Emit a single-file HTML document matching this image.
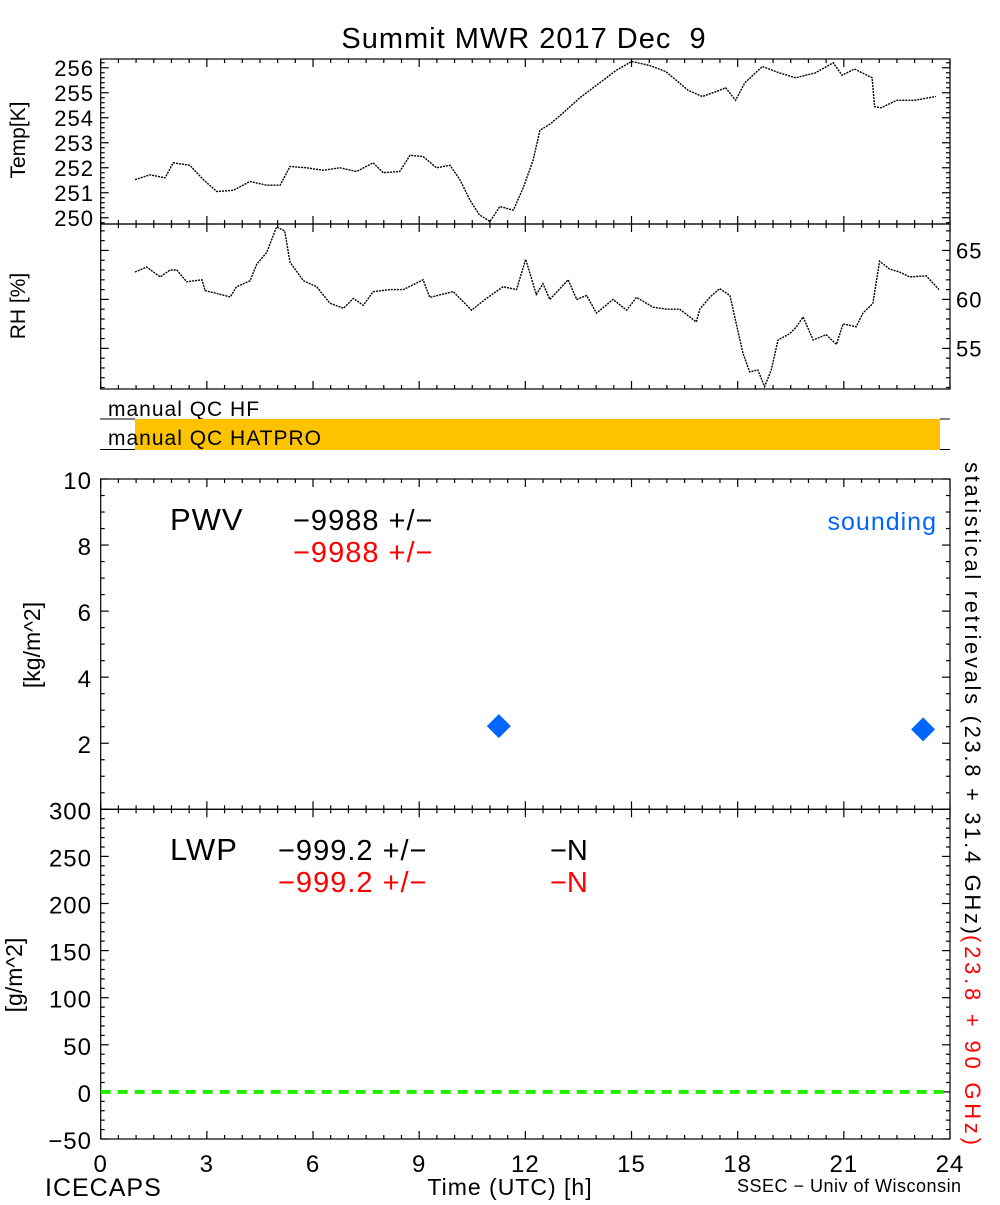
<!DOCTYPE html>
<html><head><meta charset="utf-8"><style>
body{margin:0;background:#fff}
svg text{font-family:"Liberation Sans",sans-serif}
</style></head><body>
<svg id="chart" width="1000" height="1200" xmlns="http://www.w3.org/2000/svg">
<text x="524" y="48" font-size="29" text-anchor="middle" xml:space="preserve" letter-spacing="1">Summit MWR 2017 Dec  9</text>
<g id="axes"></g>
<g id="marks"></g>
<!-- QC bars -->
<text x="108" y="416" font-size="21" letter-spacing="1">manual QC HF</text>
<line x1="100" y1="419" x2="135" y2="419" stroke="#000"/>
<line x1="940" y1="419" x2="950" y2="419" stroke="#000"/>
<rect x="135" y="419" width="805" height="31" fill="#fdc300"/>
<line x1="100" y1="449.5" x2="135" y2="449.5" stroke="#000"/>
<line x1="940" y1="449.5" x2="950" y2="449.5" stroke="#000"/>
<text x="108" y="445" font-size="21" letter-spacing="1">manual QC HATPRO</text>
<!-- axis titles -->
<text transform="translate(25,140) rotate(-90)" font-size="21" text-anchor="middle">Temp[K]</text>
<text transform="translate(25,306) rotate(-90)" font-size="21" text-anchor="middle">RH [%]</text>
<text transform="translate(40,645) rotate(-90)" font-size="23" text-anchor="middle">[kg/m^2]</text>
<text transform="translate(22,975) rotate(-90)" font-size="23" text-anchor="middle">[g/m^2]</text>
<text transform="translate(965,462) rotate(90)" font-size="22" textLength="472" lengthAdjust="spacing">statistical retrievals (23.8 + 31.4 GHz)</text>
<text transform="translate(965,935) rotate(90)" font-size="22" fill="#ff0000" textLength="210" lengthAdjust="spacing">(23.8 + 90 GHz)</text>
<!-- annotations -->
<text x="170" y="530" font-size="31" letter-spacing="1">PWV</text>
<text x="293" y="530" font-size="29" letter-spacing="1">−9988 +/−</text>
<text x="293" y="562" font-size="29" letter-spacing="1" fill="#ff0000">−9988 +/−</text>
<text x="937" y="530" font-size="25" letter-spacing="1" fill="#0066ff" text-anchor="end">sounding</text>
<text x="170" y="860" font-size="31" letter-spacing="1">LWP</text>
<text x="278" y="860" font-size="29" letter-spacing="1">−999.2 +/−</text>
<text x="278" y="892" font-size="29" letter-spacing="1" fill="#ff0000">−999.2 +/−</text>
<text x="550" y="860" font-size="29">−N</text>
<text x="550" y="892" font-size="29" fill="#ff0000">−N</text>
<text x="45" y="1196" font-size="25" letter-spacing="1">ICECAPS</text>
<text x="510" y="1195" font-size="23" letter-spacing="1" text-anchor="middle">Time (UTC) [h]</text>
<text x="737" y="1192" font-size="18" letter-spacing="0.5">SSEC − Univ of Wisconsin</text>
</svg>
<script>
const tempTimes=[0.97,1.39,1.82,2.05,2.52,2.9,3.28,3.75,4.22,4.69,5.07,5.35,5.82,6.29,6.76,7.23,7.7,7.98,8.45,8.74,9.11,9.49,9.87,10.15,10.43,10.7,11.0,11.28,11.66,11.94,12.22,12.41,12.7,13.07,13.54,14.1,14.57,15.0,15.5,15.97,16.6,17.0,17.4,17.66,17.94,18.2,18.7,19.17,19.64,20.2,20.7,20.95,21.3,21.8,21.87,22.05,22.5,22.99,23.6];
const tempValues=[251.52,251.72,251.6,252.2,252.1,251.52,251.05,251.1,251.45,251.3,251.3,252.05,252.0,251.9,252.0,251.85,252.2,251.8,251.85,252.5,252.45,252.0,252.1,251.52,250.72,250.12,249.85,250.45,250.3,251.2,252.3,253.5,253.75,254.2,254.8,255.4,255.9,256.25,256.1,255.85,255.1,254.85,255.05,255.2,254.7,255.4,256.05,255.8,255.6,255.8,256.2,255.7,255.95,255.6,254.45,254.4,254.7,254.7,254.85];
const rhTimes=[0.97,1.3,1.68,1.96,2.15,2.43,2.86,2.95,3.28,3.66,3.84,4.22,4.41,4.69,4.97,5.2,5.35,5.73,6.1,6.48,6.86,7.14,7.42,7.7,8.17,8.55,9.11,9.3,9.96,10.48,10.9,11.37,11.75,12.01,12.31,12.5,12.69,13.21,13.45,13.73,14.01,14.48,14.86,15.14,15.61,15.99,16.36,16.83,16.93,17.21,17.49,17.78,17.96,18.15,18.34,18.57,18.76,18.95,19.14,19.47,19.66,19.85,20.13,20.5,20.79,20.98,21.35,21.54,21.82,22.01,22.29,22.57,22.86,23.33,23.69];
const rhValues=[62.8,63.3,62.3,63.0,63.0,61.8,62.0,60.9,60.6,60.25,61.3,61.9,63.6,64.8,67.4,67.0,63.8,61.9,61.3,59.6,59.1,60.1,59.4,60.8,61.0,61.0,62.0,60.2,60.8,58.9,60.1,61.3,61.0,64.1,60.5,61.6,60.0,62.0,60.0,60.4,58.6,60.0,58.9,60.2,59.2,59.0,59.0,57.7,59.0,60.2,61.1,60.4,57.5,54.5,52.6,52.8,51.1,52.8,55.85,56.5,57.2,58.2,55.85,56.4,55.4,57.5,57.2,58.6,59.6,63.9,63.1,62.8,62.3,62.4,61.0];
const soundTimes=[11.25,23.24];
const soundPWV=[2.52,2.42];
const lwpRefValue=[0];
const xTicks=[0,3,6,9,12,15,18,21,24];
const tempTicks=[250,251,252,253,254,255,256];
const rhTicks=[55,60,65];
const pwvTicks=[0,2,4,6,8,10];
const lwpTicks=[-50,0,50,100,150,200,250,300];

const NS='http://www.w3.org/2000/svg';
const L=100.7,R=950;
const X=t=>L+(R-L)*t/24;
const lin=(d0,d1,r0,r1)=>v=>r0+(v-d0)*(r1-r0)/(d1-d0);
const yT=lin(249.75,256.35,224,59);
const yRH=lin(50.85,67.7,389,224);
const yP=lin(0,10,809.3,479);
const yL=lin(-50,300,1139,809.3);
const axes=document.getElementById('axes'),marks=document.getElementById('marks');
function mk(tag,attrs,parent){const e=document.createElementNS(NS,tag);for(const k in attrs)e.setAttribute(k,attrs[k]);parent.appendChild(e);return e;}
function ln(x1,y1,x2,y2,name){const e=mk('line',{x1,y1,x2,y2,stroke:'#000','stroke-width':1.2},axes);

return e;}
function txt(x,y,s,anchor,size,name){const e=mk('text',{x,y,'font-size':size,'text-anchor':anchor,'letter-spacing':1},axes);e.textContent=s;

return e;}
const panels=[[59,224],[224,389],[479,809.3],[809.3,1139]];
panels.forEach((p,i)=>{const r=mk('rect',{x:L,y:p[0],width:R-L,height:p[1]-p[0],fill:'none',stroke:'#000','stroke-width':1.2},axes);


for(let t=0;t<=24;t+=0.5){const maj=t%3===0;const len=maj?8:4;
ln(X(t),p[0],X(t),p[0]+len,'x-tick');ln(X(t),p[1],X(t),p[1]-len,'x-tick');}});
for(let v=249.8;v<=256.3;v+=0.2){const maj=Math.abs(v-Math.round(v))<0.01;const len=maj?8:4;ln(L,yT(v),L+len,yT(v),'temp-tick');ln(R,yT(v),R-len,yT(v),'temp-tick');}
tempTicks.forEach(v=>txt(94,yT(v)+8,String(v),'end',22,'temp-tick-label'));
for(let v=51;v<=67;v++){const len=v%5===0?8:4;ln(R,yRH(v),R-len,yRH(v),'rh-tick');ln(L,yRH(v),L+len,yRH(v),'rh-tick');}
rhTicks.forEach(v=>txt(956,yRH(v)+8,String(v),'start',22,'rh-tick-label'));
for(let v=0;v<=10;v+=0.5){const len=v%2===0?8:4;ln(L,yP(v),L+len,yP(v),'pwv-tick');ln(R,yP(v),R-len,yP(v),'pwv-tick');}
pwvTicks.forEach(v=>txt(92,yP(v)+10,String(v),'end',24,'pwv-tick-label'));
for(let v=-50;v<=300;v+=10){const len=v%50===0?8:4;ln(L,yL(v),L+len,yL(v),'lwp-tick');ln(R,yL(v),R-len,yL(v),'lwp-tick');}
lwpTicks.forEach(v=>txt(92,yL(v)+10,(v<0?'−':'')+Math.abs(v),'end',24,'lwp-tick-label'));
xTicks.forEach(t=>txt(X(t),1172,String(t),'middle',24,'x-tick-label'));
function series(ts,vs,yf,name){const d=ts.map((t,i)=>(i?'L':'M')+X(t).toFixed(1)+','+yf(vs[i]).toFixed(1)).join('');
const p=mk('path',{d,fill:'none',stroke:'#000','stroke-width':1.4,'stroke-dasharray':'2 1'},marks);

}
series(tempTimes,tempValues,yT,'temp-series');
series(rhTimes,rhValues,yRH,'rh-series');
soundTimes.forEach((t,i)=>{const cx=X(t),cy=yP(soundPWV[i]),h=12;
const d=mk('polygon',{points:`${cx},${cy-h} ${cx+h},${cy} ${cx},${cy+h} ${cx-h},${cy}`,fill:'#0066ff'},marks);

});
lwpRefValue.forEach(v=>{const l=mk('line',{x1:L,y1:yL(v),x2:R,y2:yL(v),stroke:'#22ee00','stroke-width':4,'stroke-dasharray':'10 7'},marks);

});
</script>
</body></html>
